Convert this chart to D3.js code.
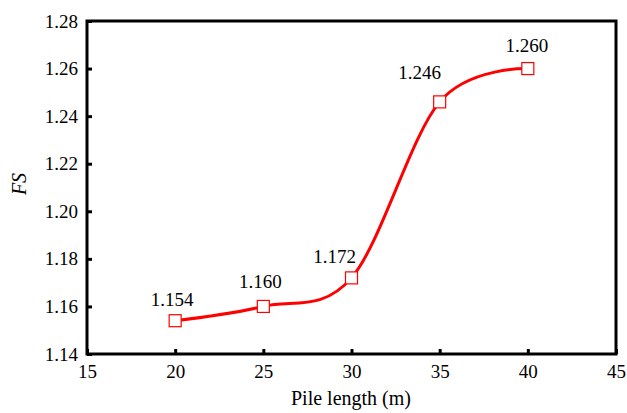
<!DOCTYPE html>
<html><head><meta charset="utf-8">
<script src="https://cdn.jsdelivr.net/npm/d3@7/dist/d3.min.js"></script>
<style>body{margin:0;background:#fff}svg{display:block}text{font-family:"Liberation Serif","Times New Roman",serif;fill:#000}</style>
</head><body><svg id="c" width="627" height="413"></svg>
<script>
const pileLength = [20, 25, 30, 35, 40];
const fsValues = [1.154, 1.160, 1.172, 1.246, 1.260];
const fsLabels = ["1.154", "1.160", "1.172", "1.246", "1.260"];
const xTicks = [15, 20, 25, 30, 35, 40, 45];
const yTicks = [1.14, 1.16, 1.18, 1.20, 1.22, 1.24, 1.26, 1.28];

const svg = d3.select("#c");
const L = 87, R = 616, T = 21, B = 354;
const x = d3.scaleLinear().domain([15, 45]).range([L, R]);
const y = d3.scaleLinear().domain([1.14, 1.28]).range([B, T]);

const xAxis = svg.append("g").attr("transform", `translate(0,${B})`)
  .call(d3.axisBottom(x).tickValues(xTicks).tickFormat(d3.format("d")).tickSizeInner(-5).tickSizeOuter(0).tickPadding(9));
const yAxis = svg.append("g").attr("transform", `translate(${L},0)`)
  .call(d3.axisLeft(y).tickValues(yTicks).tickFormat(d3.format(".2f")).tickSizeInner(-5).tickSizeOuter(0).tickPadding(9));
[xAxis, yAxis].forEach(g => {
  g.attr("font-family", null);
  g.select(".domain").remove();
  g.selectAll(".tick line").attr("stroke", "#000").attr("stroke-width", 3);
  g.selectAll(".tick text").attr("font-size", 19);
});
xAxis.selectAll(".tick text").attr("dy", "0.78em");
svg.append("rect").attr("x", L).attr("y", T).attr("width", R - L).attr("height", B - T)
  .attr("fill", "none").attr("stroke", "#000").attr("stroke-width", 3);

const data = pileLength.map((d, i) => ({x: d, y: fsValues[i], label: fsLabels[i]}));
svg.append("path").datum(data)
  .attr("d", d3.line().x(d => x(d.x)).y(d => y(d.y)).curve(d3.curveCardinal.tension(0)))
  .attr("fill", "none").attr("stroke", "#ff0000").attr("stroke-width", 3);

const s = 12;
svg.selectAll(".m").data(data).enter().append("rect")
  .attr("x", d => x(d.x) - s/2).attr("y", d => y(d.y) - s/2)
  .attr("width", s).attr("height", s)
  .attr("fill", "#fff").attr("stroke", "#ff0000").attr("stroke-width", 1.2);

// label placement offsets (layout only)
const lblDx = [-3, -3, -17, -20, -1];
const lblDy = [-15, -18, -15, -23, -17];
svg.selectAll(".lbl").data(data).enter().append("text")
  .attr("x", (d, i) => x(d.x) + lblDx[i]).attr("y", (d, i) => y(d.y) + lblDy[i])
  .attr("text-anchor", "middle").attr("font-size", 19).text(d => d.label);

svg.append("text").attr("x", 351).attr("y", 405).attr("text-anchor", "middle")
  .attr("font-size", 20).text("Pile length (m)");
svg.append("text").attr("transform", `translate(26,184) rotate(-90)`)
  .attr("text-anchor", "middle").attr("font-size", 20).attr("font-style", "italic").text("FS");
</script></body></html>
